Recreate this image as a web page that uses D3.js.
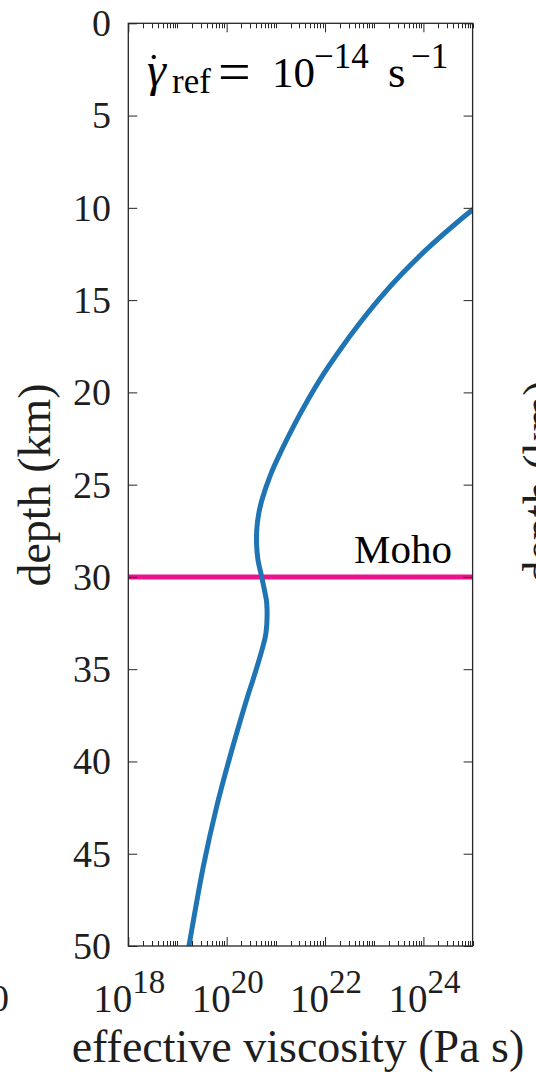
<!DOCTYPE html>
<html>
<head>
<meta charset="utf-8">
<script src="https://cdn.jsdelivr.net/npm/d3@7"></script>
<style>
  html, body { margin: 0; padding: 0; background: #fff; overflow: hidden; }
  text { font-family: "Liberation Serif", "Times New Roman", serif; fill: #1e1e1e; }
</style>
</head>
<body>
<svg id="chart" width="536" height="1077"></svg>
<script>
// Effective viscosity profile with depth (reference strain rate 1e-14 1/s)
const depthKm = [9.6, 10.11, 10.93, 12.28, 13.63, 14.99, 16.34, 17.70, 19.05, 20.40, 21.76,
                 23.11, 24.47, 25.82, 26.64, 27.45, 28.26, 29.07, 29.99, 30.86, 31.40,
                 33.03, 33.95, 35.57, 36.29, 39.73, 42.44, 45.69, 49.66, 50.0];
const viscosityPaS = [1.9e25, 1.0e25, 4.2e24, 1.13e24, 3.5e23, 1.22e23, 4.79e22, 2.01e22, 9.08e21,
                      4.50e21, 2.37e21, 1.32e21, 7.78e20, 5.22e20, 4.44e20, 4.09e20, 4.06e20,
                      4.33e20, 5.15e20, 6.01e20, 6.51e20, 6.30e20, 5.22e20, 3.43e20, 2.80e20,
                      1.17e20, 6.27e19, 3.35e19, 1.80e19, 1.71e19];

const depthTicks = [0, 5, 10, 15, 20, 25, 30, 35, 40, 45, 50];
const labelledExponents = [18, 20, 22, 24];
const mohoDepthKm = 30;

(function draw() {
  const svg = d3.select("#chart");
  const mLeft = 128.3, mRight = 472.6, mTop = 23.3, mBottom = 946;

  const x = d3.scaleLog().domain([1e18, 1e25]).range([mLeft, mRight]);
  const y = d3.scaleLinear().domain([0, 50]).range([mTop, mBottom]);

  const axisColor = "#262626";

  // clip region for data
  svg.append("clipPath").attr("id", "plotClip")
    .append("rect").attr("x", mLeft).attr("y", mTop)
    .attr("width", mRight - mLeft).attr("height", mBottom - mTop);

  // Moho line
  svg.append("line")
    .attr("x1", mLeft).attr("x2", mRight)
    .attr("y1", y(mohoDepthKm)).attr("y2", y(mohoDepthKm))
    .attr("stroke", "#ec128c").attr("stroke-width", 5);

  svg.append("text")
    .attr("x", 452).attr("y", y(mohoDepthKm) - 14)
    .attr("text-anchor", "end")
    .style("font-size", "41px").style("fill", "#000")
    .text("Moho");

  // viscosity curve
  const line = d3.line()
    .x((d, i) => x(viscosityPaS[i]))
    .y(d => y(d))
    .curve(d3.curveCatmullRom.alpha(0.5));

  svg.append("path")
    .datum(depthKm)
    .attr("clip-path", "url(#plotClip)")
    .attr("fill", "none")
    .attr("stroke", "#1f74b4")
    .attr("stroke-width", 5)
    .attr("stroke-linejoin", "round")
    .attr("d", line);

  // minor ticks on the log axis (top and bottom)
  const minorTicks = x.ticks().filter(v => !labelledExponents.some(e => Math.abs(Math.log10(v) - e) < 1e-9));

  const tickG = svg.append("g").attr("stroke", axisColor).attr("stroke-width", 1);
  minorTicks.forEach(v => {
    const px = Math.round(x(v)) + 0.5;
    tickG.append("line").attr("x1", px).attr("x2", px).attr("y1", mBottom).attr("y2", mBottom - 5);
    tickG.append("line").attr("x1", px).attr("x2", px).attr("y1", mTop).attr("y2", mTop + 5);
  });

  // major x ticks + labels
  const majorVals = labelledExponents.map(e => Math.pow(10, e));
  const gxb = svg.append("g").attr("transform", `translate(0,${mBottom})`)
    .call(d3.axisBottom(x).tickValues(majorVals).tickSize(-9).tickFormat(""));
  const gxt = svg.append("g").attr("transform", `translate(0,${mTop})`)
    .call(d3.axisTop(x).tickValues(majorVals).tickSize(-9).tickFormat(""));

  labelledExponents.forEach(e => {
    const t = svg.append("text")
      .attr("x", x(Math.pow(10, e)) + 1)
      .attr("y", 1012)
      .attr("text-anchor", "middle")
      .style("font-size", "39px");
    t.append("tspan").text("10");
    t.append("tspan").attr("dy", -19).style("font-size", "33px").text(String(e));
  });

  // y axes left and right
  const gyl = svg.append("g").attr("transform", `translate(${mLeft},0)`)
    .call(d3.axisLeft(y).tickValues(depthTicks).tickSize(-9).tickFormat(""));
  const gyr = svg.append("g").attr("transform", `translate(${mRight},0)`)
    .call(d3.axisRight(y).tickValues(depthTicks).tickSize(-9).tickFormat(""));

  [gxb, gxt, gyl, gyr].forEach(g => {
    g.select(".domain").remove();
    g.selectAll(".tick line").attr("stroke", axisColor).attr("stroke-width", 1);
  });

  depthTicks.forEach(d => {
    svg.append("text")
      .attr("x", 111).attr("y", y(d))
      .attr("dy", "0.34em")
      .attr("text-anchor", "end")
      .style("font-size", "38px")
      .text(d);
  });

  // axes box
  svg.append("rect")
    .attr("x", mLeft).attr("y", mTop)
    .attr("width", mRight - mLeft).attr("height", mBottom - mTop)
    .attr("fill", "none").attr("stroke", axisColor).attr("stroke-width", 1.3);

  // axis titles
  svg.append("text")
    .attr("x", 298).attr("y", 1062)
    .attr("text-anchor", "middle")
    .style("font-size", "46px")
    .text("effective viscosity (Pa s)");

  svg.append("text")
    .attr("transform", "translate(50,485) rotate(-90)")
    .attr("text-anchor", "middle")
    .style("font-size", "46px")
    .text("depth (km)");

  // neighbouring panel's axis title and tick label, partly visible at the edges
  svg.append("text")
    .attr("transform", "translate(555,482) rotate(-90)")
    .attr("text-anchor", "middle")
    .style("font-size", "46px")
    .text("depth (km)");

  svg.append("text")
    .attr("x", 9).attr("y", 1011)
    .attr("text-anchor", "end")
    .style("font-size", "38px")
    .text("0");

  // strain-rate annotation
  const ann = svg.append("g");
  const piece = (px, py, size, txt, italic) => ann.append("text")
    .attr("x", px).attr("y", py)
    .style("font-size", size + "px")
    .style("font-style", italic ? "italic" : "normal")
    .style("fill", "#000")
    .text(txt);

  // gamma with a time-derivative dot above it
  const gam = piece(147, 86, 48, "γ", true);
  gam.append("tspan")
    .attr("dx", -19).attr("dy", -5)
    .style("font-size", "40px").style("font-style", "normal")
    .text("˙");

  piece(172, 93, 35, "ref", false);
  piece(218, 91, 58, "=", false);
  piece(272, 87, 43, "10", false);
  piece(314, 68, 35, "−14", false);
  piece(388, 87, 45, "s", false);
  piece(411, 68, 35, "−1", false);
})();
</script>
</body>
</html>
